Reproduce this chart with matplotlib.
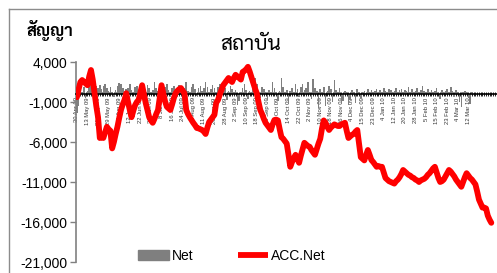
import numpy as np
import matplotlib
matplotlib.use("Agg")
from matplotlib import pyplot as plt
from matplotlib.lines import Line2D

plt.rcParams['font.family'] = ['Liberation Sans', 'DejaVu Sans']
THAI = ['Sarabun', 'Noto Sans Thai', 'Bai Jamjuree', 'Athiti', 'Liberation Sans', 'DejaVu Sans']

# cumulative net position (contracts), one value per trading day
acc_net = [
    -400, 600, 1500, 1750, 1500, 1300, 1100, 2200, 3000, 1800,
    100, -1500, -2900, -5500, -5400, -5500, -4800, -4100, -4400, -4600,
    -6800, -6000, -5000, -4100, -3000, -2000, -1300, -750, 100, -1000,
    -2000, -2900, -2100, -1400, -1000, -750, 200, 1100, 0, -1100,
    -2000, -2900, -3300, -3600, -3100, -2500, -2000, -400, 1100, 100,
    -900, -1600, -1800, -2000, -1300, -500, 100, 400, 600, 750,
    400, 100, -2000, -2500, -2900, -3250, -3600, -3900, -4250, -4300,
    -4400, -4500, -4700, -5000, -4200, -3500, -3200, -2900, -2600, -1100,
    -750, -100, 500, 1100, 1400, 1700, 2000, 1700, 1500, 2000,
    2400, 2200, 2000, 1800, 2750, 2900, 3100, 3400, 2800, 2100,
    1400, 700, 100, -1000, -2000, -2500, -3100, -3600, -3900, -4200,
    -4500, -3800, -3250, -3200, -3300, -4400, -5400, -5600, -5900, -6200,
    -7600, -9100, -8500, -8000, -7600, -8100, -8600, -7700, -6900, -6100,
    -6300, -6500, -6600, -7000, -7300, -7600, -6900, -6200, -5600, -4300,
    -3300, -3600, -4100, -4500, -4200, -4000, -3800, -3900, -4000, -4000,
    -3800, -3700, -3600, -4600, -5500, -5300, -5100, -5000, -4700, -4500,
    -6200, -7900, -8100, -8300, -7600, -7000, -7600, -8250, -8500, -8800,
    -9100, -9000, -9100, -9100, -9800, -10500, -10700, -10900, -11000, -11100,
    -11200, -10900, -10700, -10400, -10000, -9500, -9700, -9900, -10100, -10200,
    -10400, -10500, -10700, -10800, -11000, -10800, -10700, -10600, -10400, -10100,
    -9900, -9600, -9300, -9100, -9800, -10500, -11000, -10900, -10700, -10300,
    -9900, -9500, -9700, -10000, -10300, -10700, -11000, -11300, -11600, -11000,
    -10400, -9900, -10200, -10500, -10700, -11000, -11300, -12200, -13200, -13700,
    -14200, -14200, -14300, -15200, -15700, -16100,
]

# daily net (contracts)
net = [
    -2400, -1500, 600, 300, 900, -500, 400, 1200, 2000, 1800,
    1500, 1000, 800, 1100, 600, 1000, 1200, 700, 400, 900,
    300, -400, 500, 1000, 1400, 1300, 700, 300, 600, 800,
    1200, 500, 200, 900, 1000, 300, -300, 600, 900, 400,
    1100, 700, 300, 500, 1500, 800, 400, 1200, 600, 200,
    900, 1300, 500, -200, 700, 1000, 400, 600, 1100, 300,
    500, 800, 1500, 400, 200, 900, 1200, 600, -300, 700,
    1000, 400, 800, 1500, 900, 300, 600, 1100, 700, 200,
    900, 1200, 500, 300, 800, -700, 400, 1000, 600, 200,
    500, -1400, -900, 300, 800, 1200, 500, -600, 400, 300,
    700, 2000, 1200, 400, -500, 900, 600, 300, -800, 500,
    300, 1500, 700, 200, -900, 400, 2000, 900, 300, 500,
    -1200, 400, 800, 300, 1200, 600, -400, 900, 1300, 500,
    700, 1500, 300, -600, 1900, 800, 400, -1700, 600, 300,
    900, -1500, 400, 1000, 600, -1000, 1700, 500, 300, 800,
    -1200, -900, 400, 300, -1400, -700, 500, 200, -1100, 600,
    300, -500, 200, 400, 100, 600, 300, 500, 200, 400,
    600, 300, 500, 200, 700, 400, 300, 600, 500, 200,
    400, 700, 300, 500, 600, 200, 500, 400, 900, 300,
    600, 200, 400, 700, 300, 500, 1000, 400, 200, 600,
    300, 500, 200, 400, 700, 300, -600, 500, 200, 400,
    600, 300, 900, 400, -300, 500, 200, -1000, -1600, 300,
    400, 200, -500, -1200, 300, 0, 0, 0, 0, 0,
    0, 0, 0, 0, 0, 0,
]

# every 6th trading day is labelled
date_labels = [
    "30 Apr 09", "13 May 09", "21 May 09", "29 May 09", "4 Jun 09", "12 Jun 09",
    "22 Jun 09", "30 Jun 09", "8 Jul 09", "16 Jul 09", "24 Jul 09", "3 Aug 09",
    "11 Aug 09", "20 Aug 09", "28 Aug 09", "2 Sep 09", "10 Sep 09", "18 Sep 09",
    "28 Sep 09", "6 Oct 09", "14 Oct 09", "22 Oct 09", "2 Nov 09", "10 Nov 09",
    "18 Nov 09", "26 Nov 09", "4 Dec 09", "15 Dec 09", "23 Dec 09", "4 Jan 10",
    "12 Jan 10", "20 Jan 10", "28 Jan 10", "5 Feb 10", "15 Feb 10", "23 Feb 10",
    "4 Mar 10", "12 Mar 10",
]
y_ticks = [4000, -1000, -6000, -11000, -16000, -21000]

x = np.arange(len(acc_net))

fig = plt.figure(figsize=(4.97, 2.73), dpi=100)
ax = fig.add_axes([76/497, 11/273, 425/497, 200/273])

ax.bar(x, net, width=0.9, color='#7f7f7f', zorder=2)
ax.plot(x, acc_net, color='#ff0000', lw=4.2, solid_joinstyle='round',
        solid_capstyle='round', zorder=3)

ax.set_xlim(-0.5, 240.5)
ax.set_ylim(-21000, 4000)
ax.set_yticks(y_ticks)
ax.set_yticklabels(['{:,}'.format(v) for v in y_ticks], fontsize=10)

ax.set_xticks(np.arange(0, 241), minor=True)
ax.set_xticks(np.arange(len(date_labels)) * 6)
ax.set_xticklabels(date_labels)
ax.tick_params(axis='x', which='major', direction='inout', length=3, width=0.6, pad=1,
               color='black', labelsize=4.2, labelcolor='#333333', labelrotation=90)
ax.tick_params(axis='x', which='minor', direction='inout', length=3, width=0.6, color='black')
ax.tick_params(axis='y', direction='out', length=4, width=1, color='#808080', pad=2)
plt.setp(ax.get_xticklabels(), rotation=90, va='top', ha='center')

for s in ['top', 'right']:
    ax.spines[s].set_visible(False)
ax.spines['bottom'].set_position(('data', 0))
ax.spines['bottom'].set_color('black')
ax.spines['bottom'].set_linewidth(1.2)
ax.spines['left'].set_color('#808080')
ax.spines['left'].set_linewidth(1.2)

# chart frame (cut at the right and bottom)
fig.add_artist(Line2D([9/497, 1.0], [1 - 9/273, 1 - 9/273], color='#8c8c8c', lw=1))
fig.add_artist(Line2D([9/497, 9/497], [0, 1 - 9/273], color='#8c8c8c', lw=1))

fig.text(27/497, 1 - 30/273, 'สัญญา', family=THAI, fontsize=12, fontweight='bold', va='center')
fig.text(251/497, 1 - 44/273, 'สถาบัน', family=THAI, fontsize=15, ha='center', va='center')

handles = [plt.Rectangle((0, 0), 1, 1, color='#7f7f7f'),
           Line2D([0], [0], color='#ff0000', lw=4.2, solid_capstyle='butt')]
fig.legend(handles, ['Net', 'ACC.Net'], loc='center', bbox_to_anchor=(232/497, 1 - 256/273),
           ncol=2, frameon=False, fontsize=10, handlelength=2.2, handletextpad=0.2,
           columnspacing=3.2)

fig.savefig("out.png")
